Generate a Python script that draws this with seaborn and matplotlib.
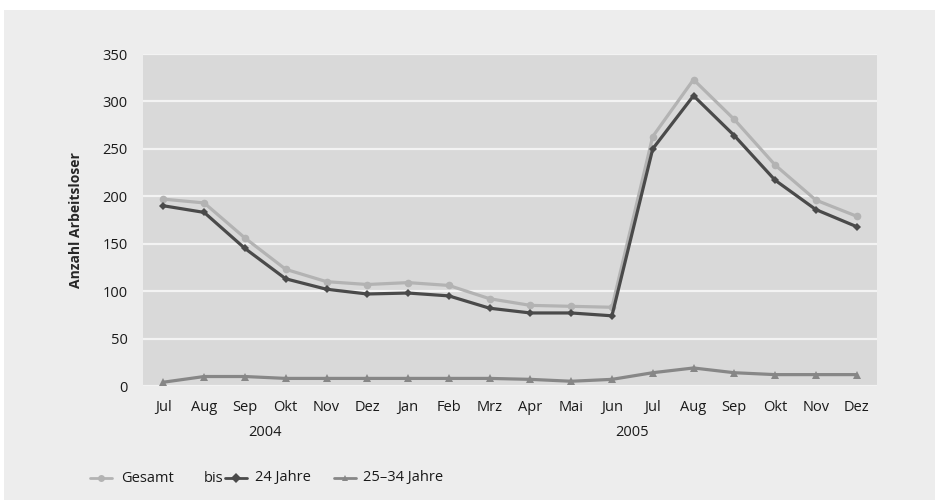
import numpy as np
import pandas as pd
import matplotlib
matplotlib.use("Agg")
import matplotlib.pyplot as plt
from matplotlib.lines import Line2D
from matplotlib.patches import Rectangle
import seaborn as sns

months = ["Jul", "Aug", "Sep", "Okt", "Nov", "Dez",
          "Jan", "Feb", "Mrz", "Apr", "Mai", "Jun",
          "Jul", "Aug", "Sep", "Okt", "Nov", "Dez"]
years = ["2004", "2005"]
year_centers = [2.5, 11.5]

gesamt = [197, 193, 156, 123, 110, 107, 109, 106, 92, 85, 84, 83,
          263, 323, 281, 233, 196, 179]
bis_24 = [190, 183, 145, 113, 102, 97, 98, 95, 82, 77, 77, 74,
          250, 306, 264, 217, 186, 168]
j25_34 = [4, 10, 10, 8, 8, 8, 8, 8, 8, 7, 5, 7,
          14, 19, 14, 12, 12, 12]

series_names = ["Gesamt", "24 Jahre", "25–34 Jahre"]
colors = ["#b3b3b3", "#4a4a4a", "#878787"]
markers = ["o", "D", "^"]
marker_sizes = [5.5, 4.5, 6]

idx = np.arange(len(months))
df = pd.concat([
    pd.DataFrame({"x": idx, "Anzahl": vals, "Gruppe": name})
    for name, vals in zip(series_names, [gesamt, bis_24, j25_34])
], ignore_index=True)

sns.set_theme(style="white")
plt.rcParams["font.family"] = ["Liberation Sans Narrow", "Open Sans", "DejaVu Sans"]
plt.rcParams["text.color"] = "#1a1a1a"

fig = plt.figure(figsize=(9.35, 5.0), dpi=100, facecolor="white")
fig.add_artist(Rectangle((4 / 935, 0), 1, 490 / 500, transform=fig.transFigure,
                         facecolor="#ededed", edgecolor="none", zorder=-10))
ax = fig.add_axes([143 / 935, 114 / 500, 734 / 935, 332 / 500])
ax.set_facecolor("#d9d9d9")

for name, c, m, ms in zip(series_names, colors, markers, marker_sizes):
    sub = df[df["Gruppe"] == name]
    sns.lineplot(data=sub, x="x", y="Anzahl", color=c, marker=m,
                 markersize=ms, markeredgewidth=0, linewidth=2.3,
                 legend=False, ax=ax, zorder=3)

ax.set_xlim(-0.5, len(months) - 0.5)
ax.set_ylim(0, 350)
ax.set_yticks(np.arange(0, 351, 50))
ax.set_xticks(idx)
ax.set_xticklabels(months)
ax.yaxis.grid(True, color="#f3f3f3", linewidth=1.6)
ax.xaxis.grid(False)
ax.set_axisbelow(True)
for s in ax.spines.values():
    s.set_visible(False)
ax.tick_params(axis="both", length=0, labelsize=10.5, colors="#1a1a1a")
ax.tick_params(axis="y", pad=11)
ax.tick_params(axis="x", pad=10)
ax.set_xlabel("")
ax.set_ylabel("Anzahl Arbeitsloser", fontsize=10, fontweight="bold", labelpad=14)

for yr, cx in zip(years, year_centers):
    ax.text(cx, -0.14, yr, transform=ax.get_xaxis_transform(),
            ha="center", va="center", fontsize=10.5)

# legend row
ly = 1 - 478 / 500
entries = [(90, 121, series_names[0], None),
           (225, 255, series_names[1], 204),
           (334, 363, series_names[2], None)]
for (hx, tx, label, prefix_x), c, m in zip(entries, colors, markers):
    fig.add_artist(Line2D([hx / 935, (hx + 22) / 935], [ly, ly],
                          transform=fig.transFigure, color=c, linewidth=2.0))
    fig.add_artist(Line2D([(hx + 11) / 935], [ly], transform=fig.transFigure,
                          color=c, marker=m, markersize=5, markeredgewidth=0,
                          linestyle="none"))
    fig.text(tx / 935, ly, label, ha="left", va="center", fontsize=10.5)
    if prefix_x is not None:
        fig.text(prefix_x / 935, ly, "bis", ha="left", va="center", fontsize=10.5)

fig.savefig("out.png", dpi=100, facecolor=fig.get_facecolor())
